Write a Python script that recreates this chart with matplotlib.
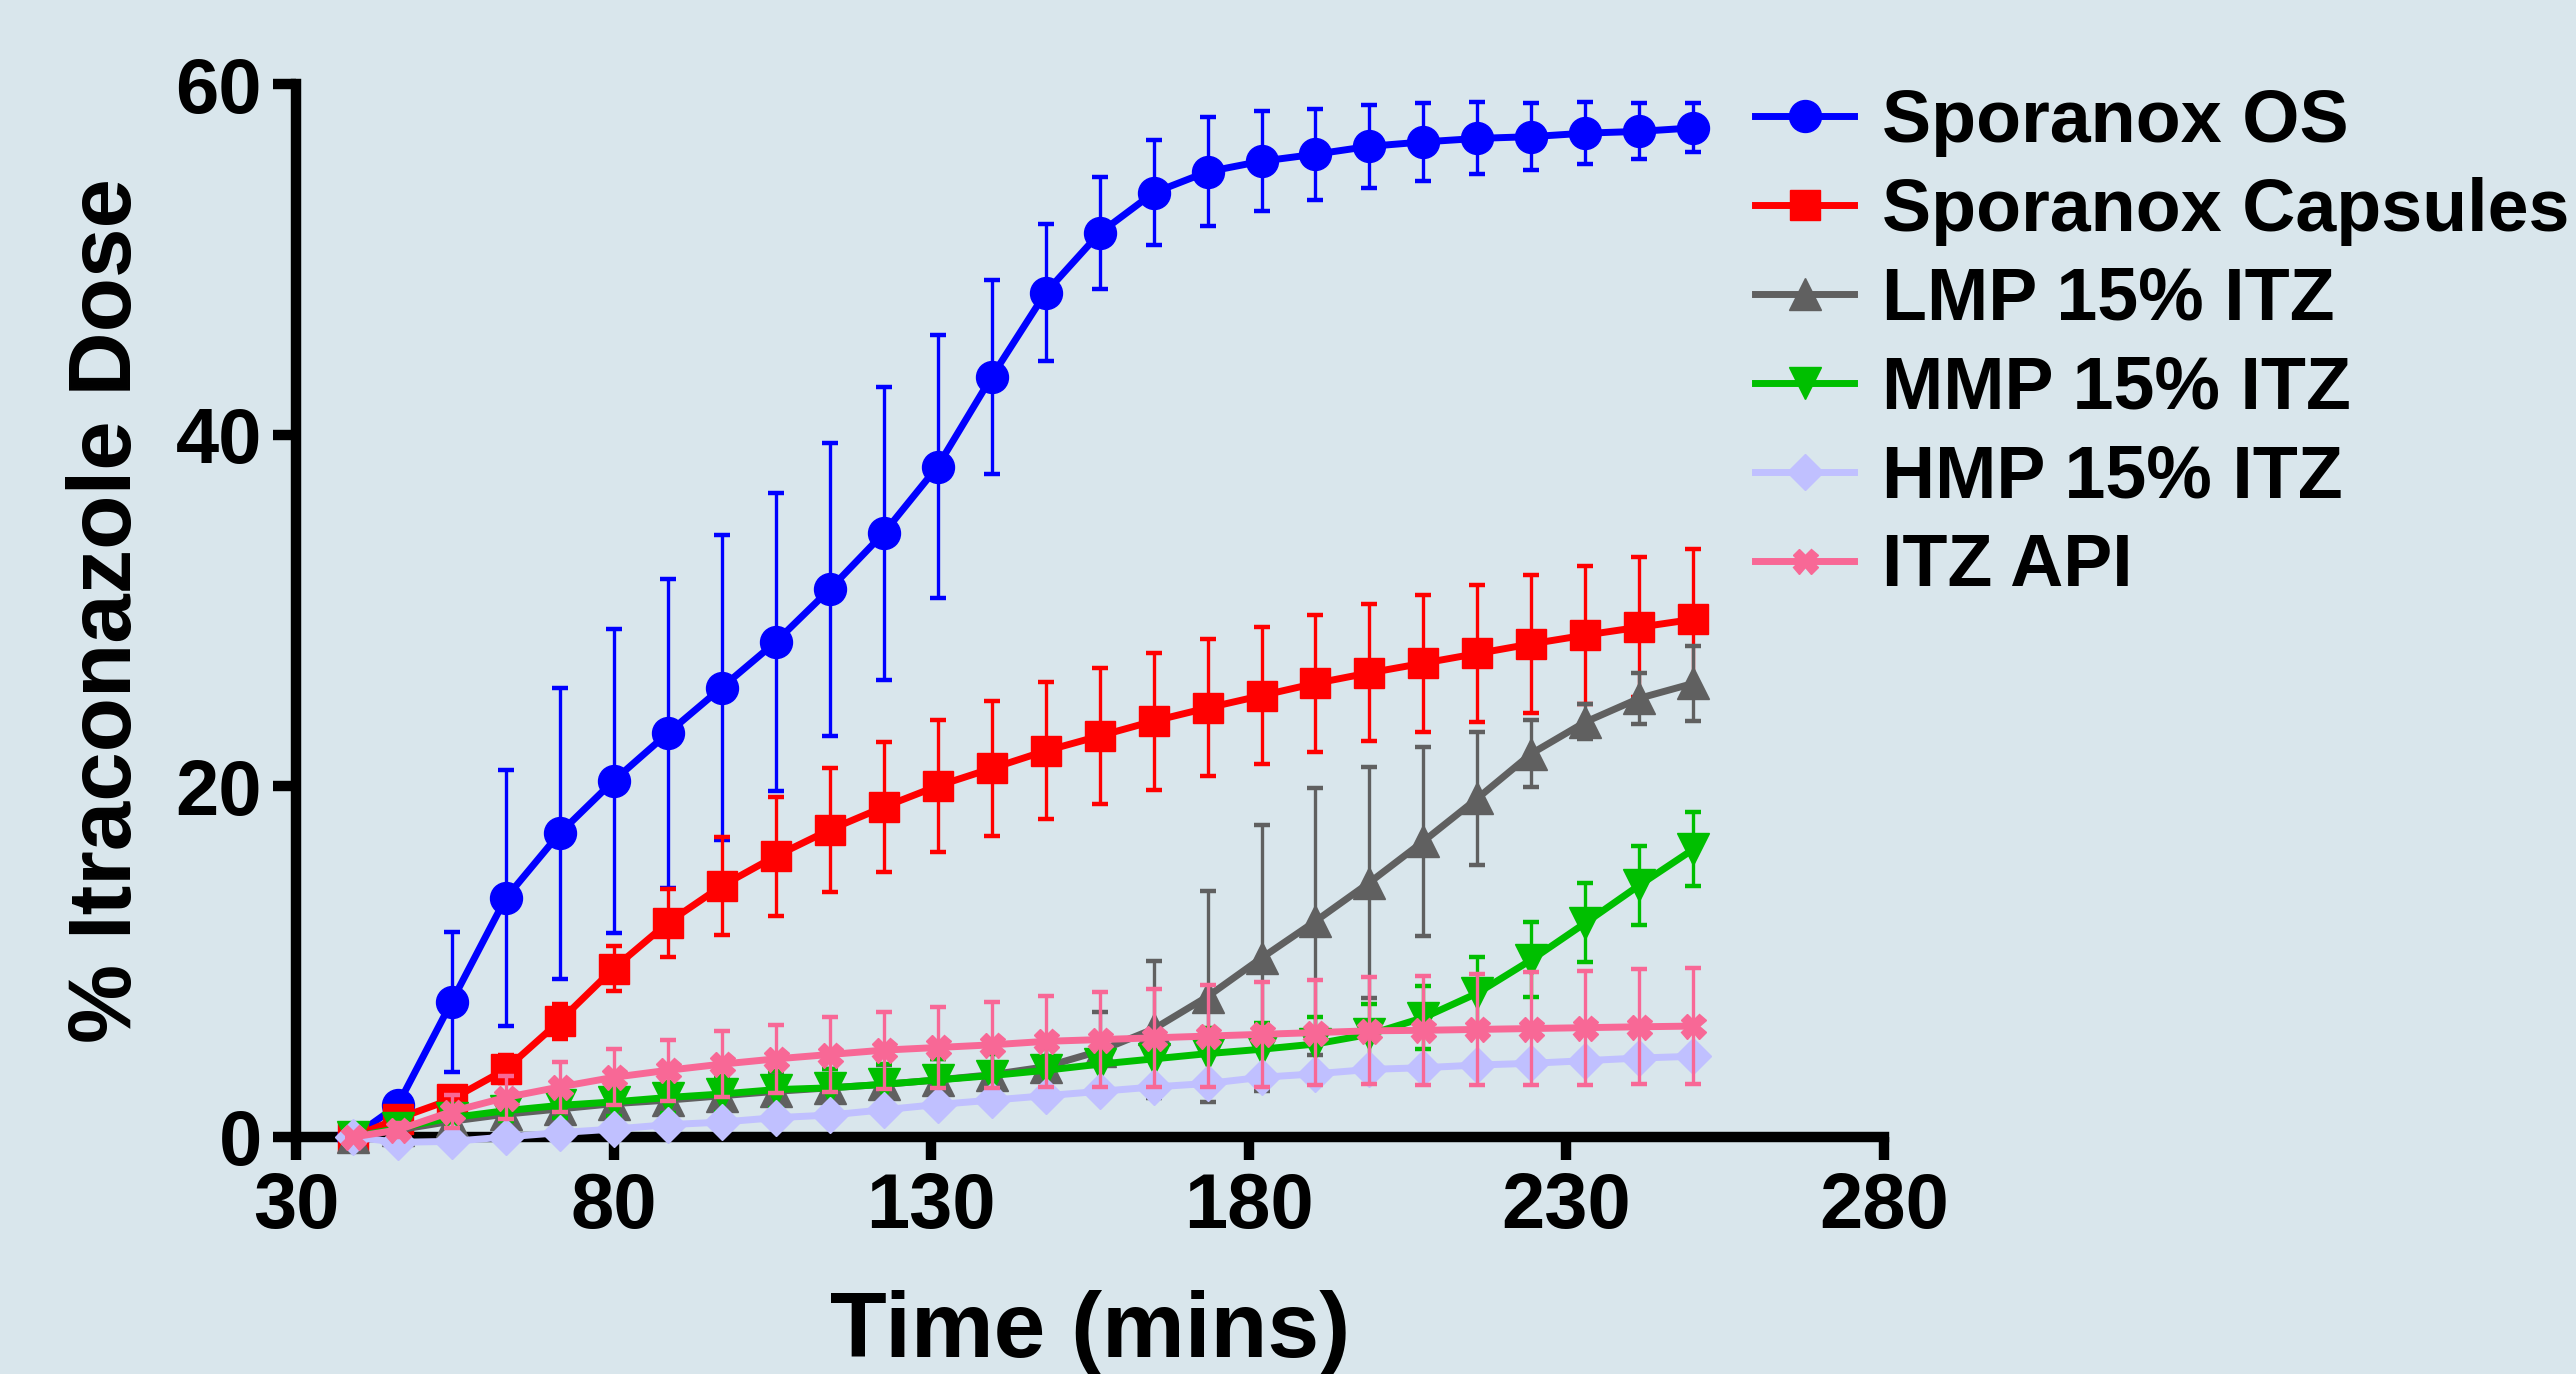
import matplotlib
matplotlib.use("Agg")
import matplotlib.pyplot as plt

# sampling times (mins)
time = [39, 46, 54.5, 63, 71.5, 80, 88.5, 97, 105.5, 114, 122.5, 131, 139.5,
        148, 156.5, 165, 173.5, 182, 190.5, 199, 207.5, 216, 224.5, 233, 241.5, 250]

# % itraconazole dose, mean and error
os_mean = [0, 1.8, 7.7, 13.6, 17.3, 20.3, 23.0, 25.6, 28.2, 31.2, 34.4, 38.2, 43.3,
           48.1, 51.5, 53.8, 55.0, 55.6, 56.0, 56.45, 56.7, 56.9, 57.0, 57.2, 57.3, 57.5]
os_err = [0, 0.3, 4.0, 7.3, 8.3, 8.65, 8.8, 8.7, 8.5, 8.35, 8.35, 7.5, 5.55,
          3.9, 3.2, 3.0, 3.1, 2.85, 2.6, 2.35, 2.2, 2.05, 1.9, 1.75, 1.6, 1.4]

caps_mean = [0, 1.05, 2.15, 3.85, 6.6, 9.6, 12.2, 14.3, 16.0, 17.5, 18.8, 20.0, 21.0,
             22.0, 22.85, 23.7, 24.45, 25.15, 25.85, 26.45, 27.0, 27.55, 28.1, 28.6, 29.05, 29.5]
caps_err = [0, 0.3, 0.5, 0.8, 1.0, 1.3, 1.95, 2.8, 3.4, 3.55, 3.7, 3.75, 3.85,
            3.9, 3.9, 3.9, 3.9, 3.9, 3.9, 3.9, 3.9, 3.93, 3.93, 3.95, 3.98, 4.0]

lmp_mean = [0, 0.4, 0.9, 1.3, 1.6, 1.9, 2.1, 2.35, 2.6, 2.8, 3.0, 3.25, 3.55,
            4.0, 4.9, 6.15, 8.0, 10.2, 12.3, 14.5, 16.85, 19.3, 21.85, 23.65, 25.0, 25.85]
lmp_err = [0, 0.3, 0.5, 0.6, 0.7, 0.8, 0.9, 1.0, 1.0, 1.05, 1.1, 1.2, 1.3,
           1.6, 2.2, 3.9, 6.0, 7.6, 7.6, 6.6, 5.4, 3.8, 1.9, 1.0, 1.45, 2.15]

mmp_mean = [0, 0.5, 1.1, 1.5, 1.8, 2.0, 2.25, 2.45, 2.7, 2.8, 3.0, 3.25, 3.5,
            3.8, 4.15, 4.45, 4.75, 5.0, 5.3, 5.85, 6.8, 8.2, 10.1, 12.2, 14.35, 16.4]
mmp_err = [0, 0.3, 0.5, 0.6, 0.7, 0.8, 0.9, 1.0, 1.05, 1.1, 1.15, 1.2, 1.25,
           1.3, 1.35, 1.4, 1.45, 1.5, 1.55, 1.7, 1.8, 2.05, 2.15, 2.25, 2.25, 2.1]

hmp_mean = [0, -0.3, -0.25, 0.0, 0.25, 0.45, 0.7, 0.85, 1.1, 1.25, 1.55, 1.85, 2.1,
            2.35, 2.6, 2.85, 3.05, 3.4, 3.6, 3.85, 3.95, 4.1, 4.2, 4.35, 4.5, 4.6]
hmp_err = [0, 0.2, 0.2, 0.2, 0.2, 0.2, 0.2, 0.2, 0.2, 0.2, 0.3, 0.3, 0.3,
           0.3, 0.3, 0.3, 0.3, 0.3, 0.3, 0.3, 0.3, 0.3, 0.3, 0.3, 0.3, 0.3]

api_mean = [0, 0.4, 1.45, 2.25, 2.85, 3.4, 3.8, 4.15, 4.45, 4.7, 4.95, 5.1, 5.25,
            5.45, 5.55, 5.65, 5.75, 5.85, 5.95, 6.05, 6.08, 6.13, 6.18, 6.23, 6.28, 6.32]
api_err = [0, 0.4, 0.95, 1.2, 1.4, 1.6, 1.75, 1.87, 1.95, 2.15, 2.2, 2.33, 2.47,
           2.6, 2.7, 2.78, 2.9, 2.98, 3.0, 3.05, 3.1, 3.17, 3.2, 3.25, 3.28, 3.3]

labels = ["Sporanox OS", "Sporanox Capsules", "LMP 15% ITZ",
          "MMP 15% ITZ", "HMP 15% ITZ", "ITZ API"]
means = [os_mean, caps_mean, lmp_mean, mmp_mean, hmp_mean, api_mean]
errs = [os_err, caps_err, lmp_err, mmp_err, hmp_err, api_err]
colors = ["#0000FF", "#FF0000", "#606060", "#00BF00", "#C0C0FF", "#F86896"]
markers = ["o", "s", "^", "v", "D", "X"]
msizes = [23, 22, 23, 23, 18, 18]

bg = "#D9E6EC"
font = "Liberation Sans"

fig = plt.figure(figsize=(25.76, 13.74), dpi=100, facecolor=bg)
ax = fig.add_axes([296 / 2576, 1 - 1137 / 1374, (1884 - 296) / 2576, (1137 - 84) / 1374])
ax.set_facecolor(bg)

handles = []
for i in range(len(labels)):
    z = 3 + i
    ax.errorbar(time, means[i], yerr=errs[i], fmt="none", ecolor=colors[i],
                elinewidth=2.4, capsize=5.8, capthick=3.2, zorder=z, clip_on=False)
    ln, = ax.plot(time, means[i], color=colors[i], lw=5, marker=markers[i],
                  ms=msizes[i], mec=colors[i], mfc=colors[i], zorder=z + 0.5,
                  clip_on=False, label=labels[i])
    handles.append(ln)

ax.set_xlim(30, 280)
ax.set_ylim(0, 60)
ax.set_xticks([30, 80, 130, 180, 230, 280])
ax.set_yticks([0, 20, 40, 60])

for side in ["top", "right"]:
    ax.spines[side].set_visible(False)
for side in ["left", "bottom"]:
    ax.spines[side].set_linewidth(7.5)

ax.tick_params(direction="out", length=16.5, width=7.5, labelsize=56, pad=8)
for t in ax.get_xticklabels() + ax.get_yticklabels():
    t.set_fontfamily(font)
    t.set_fontweight("bold")

ax.set_xlabel("Time (mins)", fontsize=67, fontweight="bold", fontfamily=font, labelpad=33)
ax.set_ylabel("% Itraconazole Dose", fontsize=64, fontweight="bold", fontfamily=font, labelpad=18)

leg = ax.legend(handles=handles, loc="upper left", bbox_to_anchor=(1755 / 2576, 1 - 88 / 1374),
                bbox_transform=fig.transFigure, frameon=False, borderpad=0, borderaxespad=0,
                handlelength=1.35, handletextpad=0.37, labelspacing=0.27, numpoints=1,
                prop={"family": font, "weight": "bold", "size": 53})

fig.savefig("out.png", dpi=100, facecolor=bg)
